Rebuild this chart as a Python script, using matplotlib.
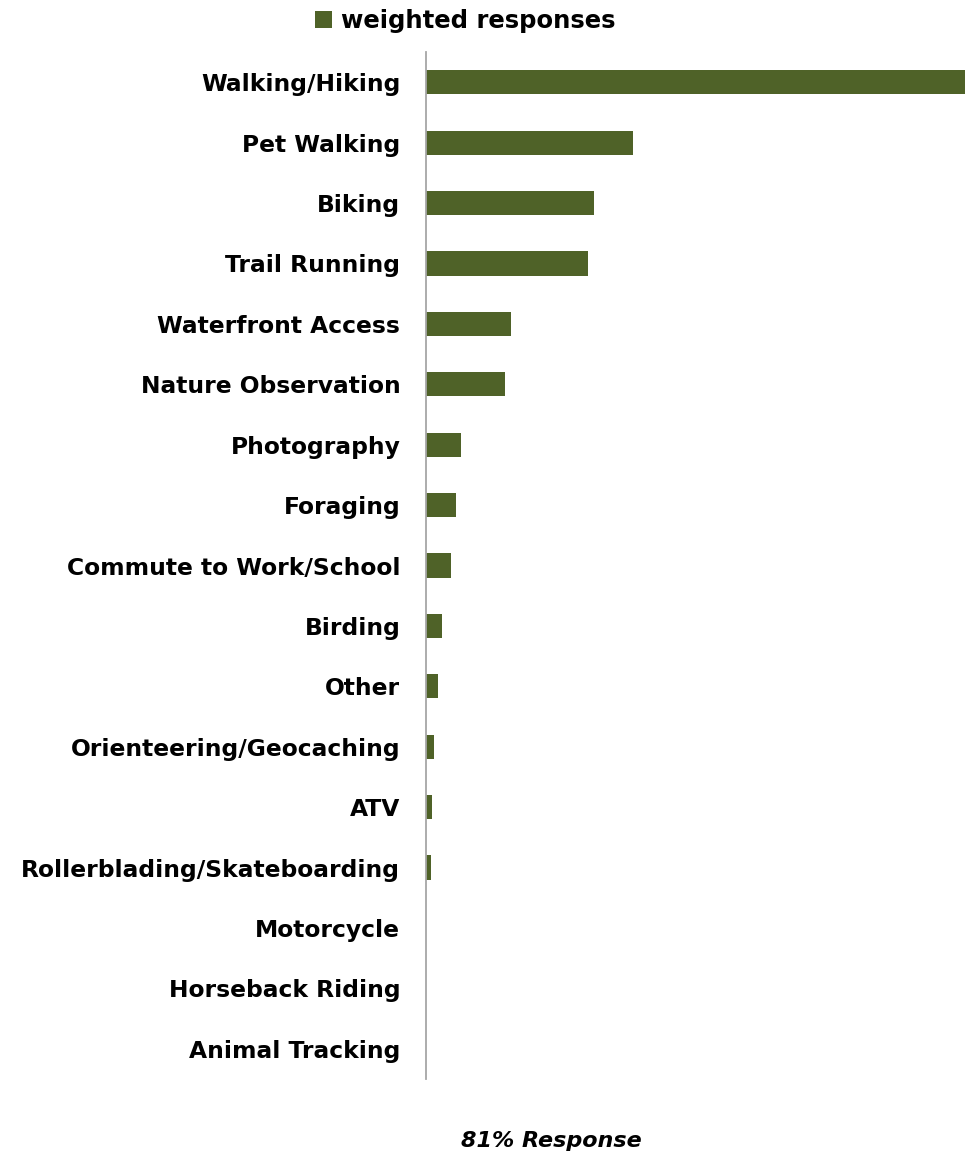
import numpy as np
import matplotlib.pyplot as plt

# weighted responses per trail activity
activities = ['Walking/Hiking', 'Pet Walking', 'Biking', 'Trail Running',
              'Waterfront Access', 'Nature Observation', 'Photography',
              'Foraging', 'Commute to Work/School', 'Birding', 'Other',
              'Orienteering/Geocaching', 'ATV',
              'Rollerblading/Skateboarding', 'Motorcycle',
              'Horseback Riding', 'Animal Tracking']
weighted = [539, 207, 168, 162, 85, 79, 35, 30, 25, 16, 12, 8, 6, 5, 0, 0, 0]

BAR_COLOR = '#4F6228'
FONT = ['DejaVu Sans']

fig = plt.figure(figsize=(9.65, 11.56), dpi=100)
ax = fig.add_axes([0.4415, 0.0666, 0.5585, 0.8884])

y = np.arange(len(activities))
bars = ax.barh(y, weighted, height=0.4, color=BAR_COLOR,
               label='weighted responses')
ax.set_ylim(len(activities) - 0.5, -0.5)
ax.set_xlim(0, max(weighted))

ax.set_yticks(y)
ax.set_yticklabels(activities, fontsize=16.8, fontweight='bold',
                   family=FONT)
ax.tick_params(axis='y', length=0, pad=18.5)
ax.set_xticks([])

for side in ['top', 'right', 'bottom']:
    ax.spines[side].set_visible(False)
ax.spines['left'].set_color('#a6a6a6')
ax.spines['left'].set_linewidth(1.3)

fig.legend(handles=[bars], labels=['weighted responses'],
           loc='center', bbox_to_anchor=(0.482, 0.982), frameon=False,
           handlelength=0.7, handleheight=0.7, handletextpad=0.35,
           prop={'size': 17.5, 'weight': 'bold', 'family': FONT})

fig.text(0.571, 0.0078, '81% Response', ha='center', va='baseline',
         fontsize=16, fontweight='bold', fontstyle='italic', family=FONT)

plt.savefig('out.png', dpi=100)
